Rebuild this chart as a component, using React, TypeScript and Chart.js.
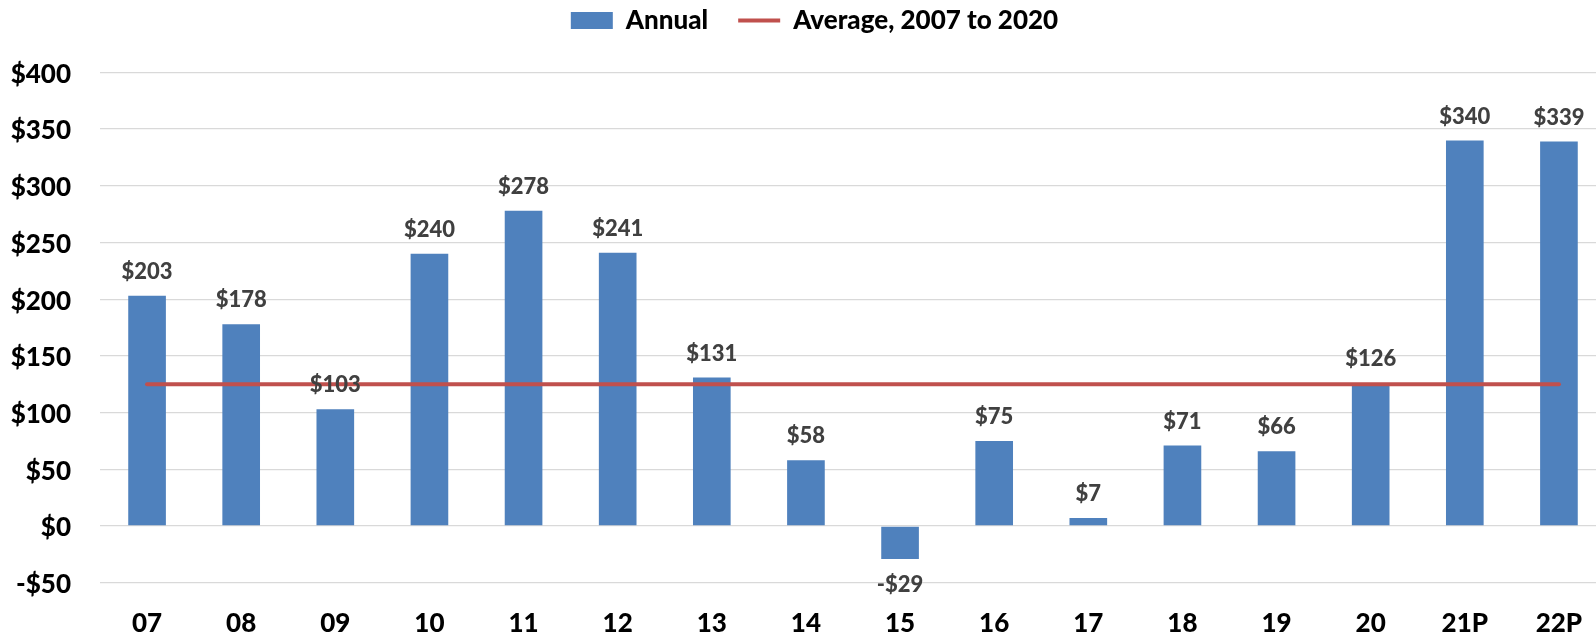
import React, { useEffect, useRef } from "react";
import { Chart, registerables } from "chart.js";

Chart.register(...registerables);

const categories = ["07", "08", "09", "10", "11", "12", "13", "14", "15", "16", "17", "18", "19", "20", "21P", "22P"];
const annualValues = [203, 178, 103, 240, 278, 241, 131, 58, -29, 75, 7, 71, 66, 126, 340, 339];
const averageValues = [125, 125, 125, 125, 125, 125, 125, 125, 125, 125, 125, 125, 125, 125, 125, 125];
const seriesNames = ["Annual", "Average, 2007 to 2020"];

const FONT = 'Lato, "Open Sans", "DejaVu Sans", sans-serif';
const fmt = (v: number) => (v < 0 ? "-$" + Math.abs(v) : "$" + v);

const LEGEND_PAD = 30;

const dataLabelPlugin = {
  id: "dataLabels",
  afterLayout(chart: any) {
    // place the legend block like the reference
    if (chart.legend) {
      chart.legend.left += 11.5;
      chart.legend.right += 11.5;
      chart.legend.top -= LEGEND_PAD - 7.5;
      chart.legend.bottom -= LEGEND_PAD - 7.5;
    }
  },
  afterDatasetsDraw(chart: any) {
    const meta = chart.getDatasetMeta(0);
    const ctx = chart.ctx;
    ctx.save();
    ctx.font = `900 22px ${FONT}`;
    ctx.fillStyle = "#404040";
    ctx.textAlign = "center";
    ctx.textBaseline = "middle";
    meta.data.forEach((el: any, i: number) => {
      const v = annualValues[i];
      const y = v >= 0 ? el.y - 24 : el.y + 26;
      ctx.fillText(fmt(v), el.x, y);
    });
    ctx.restore();
  },
};

export default function App() {
  const ref = useRef<HTMLCanvasElement | null>(null);
  useEffect(() => {
    if (!ref.current) return;
    const chart = new Chart(ref.current, {
      type: "bar",
      data: {
        labels: categories,
        datasets: [
          {
            type: "bar",
            label: seriesNames[0],
            data: annualValues,
            backgroundColor: "#4F81BD",
            borderWidth: 0,
            categoryPercentage: 0.8,
            barPercentage: 0.5,
            order: 1,
          } as any,
          {
            type: "line",
            label: seriesNames[1],
            data: averageValues,
            borderColor: "#C0504D",
            backgroundColor: "#C0504D",
            borderWidth: 4,
            borderCapStyle: "round",
            pointRadius: 0,
            fill: false,
            order: 0,
          } as any,
        ],
      },
      options: {
        responsive: false,
        animation: false,
        devicePixelRatio: 1,
        layout: { padding: { left: 0, right: 23, top: 0, bottom: 0 } },
        plugins: {
          tooltip: { enabled: false },
          title: {
            display: true,
            text: " ",
            weight: 500,
            font: { size: 1 },
            padding: { top: 0, bottom: 5.2 },
          } as any,
          legend: {
            position: "top",
            labels: {
              usePointStyle: true,
              pointStyleWidth: 42,
              boxHeight: 17,
              padding: LEGEND_PAD,
              color: "#000",
              font: { family: FONT, size: 26, weight: "900" },
              sort: (a: any, b: any) => a.datasetIndex - b.datasetIndex,
              generateLabels: (chart: any) => {
                const items = Chart.defaults.plugins.legend.labels.generateLabels(chart);
                items.forEach((it: any) => {
                  if (it.datasetIndex === 0) {
                    it.pointStyle = "rect";
                    it.lineWidth = 0;
                  } else {
                    it.pointStyle = "line";
                    it.lineWidth = 4;
                    it.strokeStyle = "#C0504D";
                  }
                });
                return items;
              },
            },
          },
        },
        scales: {
          x: {
            grid: { display: false, drawTicks: false },
            border: { display: false },
            ticks: {
              color: "#000",
              padding: 25,
              font: { family: FONT, size: 26, weight: "900" },
              maxRotation: 0,
              autoSkip: false,
            },
            afterFit: (scale: any) => {
              scale.height = 54.3;
            },
          },
          y: {
            min: -50,
            max: 400,
            grid: { color: "#D9D9D9", lineWidth: 1.3, drawTicks: false },
            border: { display: false },
            ticks: {
              stepSize: 50,
              color: "#000",
              padding: 29,
              labelOffset: 2,
              font: { family: FONT, size: 26, weight: "900" },
              callback: (v: any) => fmt(Number(v)),
            },
            afterFit: (scale: any) => {
              scale.width = 100;
            },
          },
        },
      },
      plugins: [dataLabelPlugin],
    });
    return () => chart.destroy();
  }, []);

  return (
    <div style={{ position: "fixed", left: 0, top: 0, width: 1596, height: 637, overflow: "hidden", background: "#fff" }}>
      <canvas ref={ref} width={1629} height={637} style={{ width: 1629, height: 637, display: "block" }} />
    </div>
  );
}
